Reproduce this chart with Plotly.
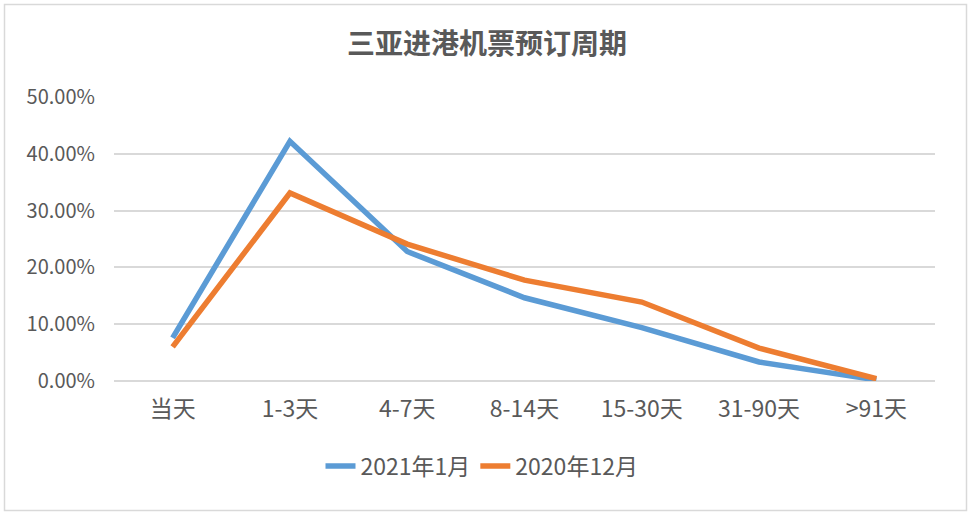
import plotly.graph_objects as go

categories = ["当天", "1-3天", "4-7天", "8-14天", "15-30天", "31-90天", ">91天"]
series_2021_01 = [0.076, 0.422, 0.228, 0.1465, 0.094, 0.0335, 0.002]
series_2020_12 = [0.060, 0.331, 0.241, 0.1775, 0.139, 0.058, 0.004]
y_ticks = [0, 0.1, 0.2, 0.3, 0.4, 0.5]

W, H = 972, 516
L, R, T, B = 114, 935, 97, 381
font_family = "Noto Sans CJK SC, Microsoft YaHei, sans-serif"
txt = "#595959"

fig = go.Figure()
fig.add_trace(go.Scatter(x=categories, y=series_2021_01, mode="lines", name="2021年1月",
                         line=dict(color="#5B9BD5", width=5.5, shape="linear")))
fig.add_trace(go.Scatter(x=categories, y=series_2020_12, mode="lines", name="2020年12月",
                         line=dict(color="#ED7D31", width=5.5, shape="linear")))

pw, ph = R - L, B - T
def px(x):
    return (x - L) / pw
def py(y):
    return (B - y) / ph

fig.add_shape(type="rect", xref="paper", yref="paper",
              x0=px(4.5), x1=px(966.5), y0=py(510.5), y1=py(4.5),
              line=dict(color="#D9D9D9", width=1.5), fillcolor="rgba(0,0,0,0)", layer="below")

fig.update_layout(
    width=W, height=H,
    margin=dict(l=L, r=W - R, t=T, b=H - B, pad=0),
    paper_bgcolor="white", plot_bgcolor="white",
    font=dict(family=font_family, color=txt, size=20),
    title=dict(text="<b>三亚进港机票预订周期</b>", x=487 / W, xref="container", xanchor="center",
               y=1 - 44 / H, yanchor="middle", yref="container",
               font=dict(size=28, color=txt, family=font_family)),
    xaxis=dict(type="category", range=[-0.5, 6.5], showgrid=False, zeroline=False,
               showline=False, ticks="", tickfont=dict(size=23, color=txt),
               ticklabelstandoff=12, fixedrange=True),
    yaxis=dict(range=[0, 0.5], tickvals=y_ticks, tickformat=".2%", showgrid=True,
               gridcolor="#D9D9D9", gridwidth=1.5, zeroline=True, zerolinecolor="#D9D9D9",
               zerolinewidth=1.5, showline=False, ticks="", tickfont=dict(size=20, color=txt),
               ticklabelstandoff=18, fixedrange=True),
    legend=dict(orientation="h", x=px(482), xanchor="center", y=py(466), yanchor="middle",
                font=dict(size=23, color=txt), tracegroupgap=0,
                bgcolor="rgba(0,0,0,0)"),
    showlegend=True,
)

fig.write_html("out.html", config={"displayModeBar": False},
               post_script="document.body.style.margin='0';document.body.style.overflow='hidden';")
